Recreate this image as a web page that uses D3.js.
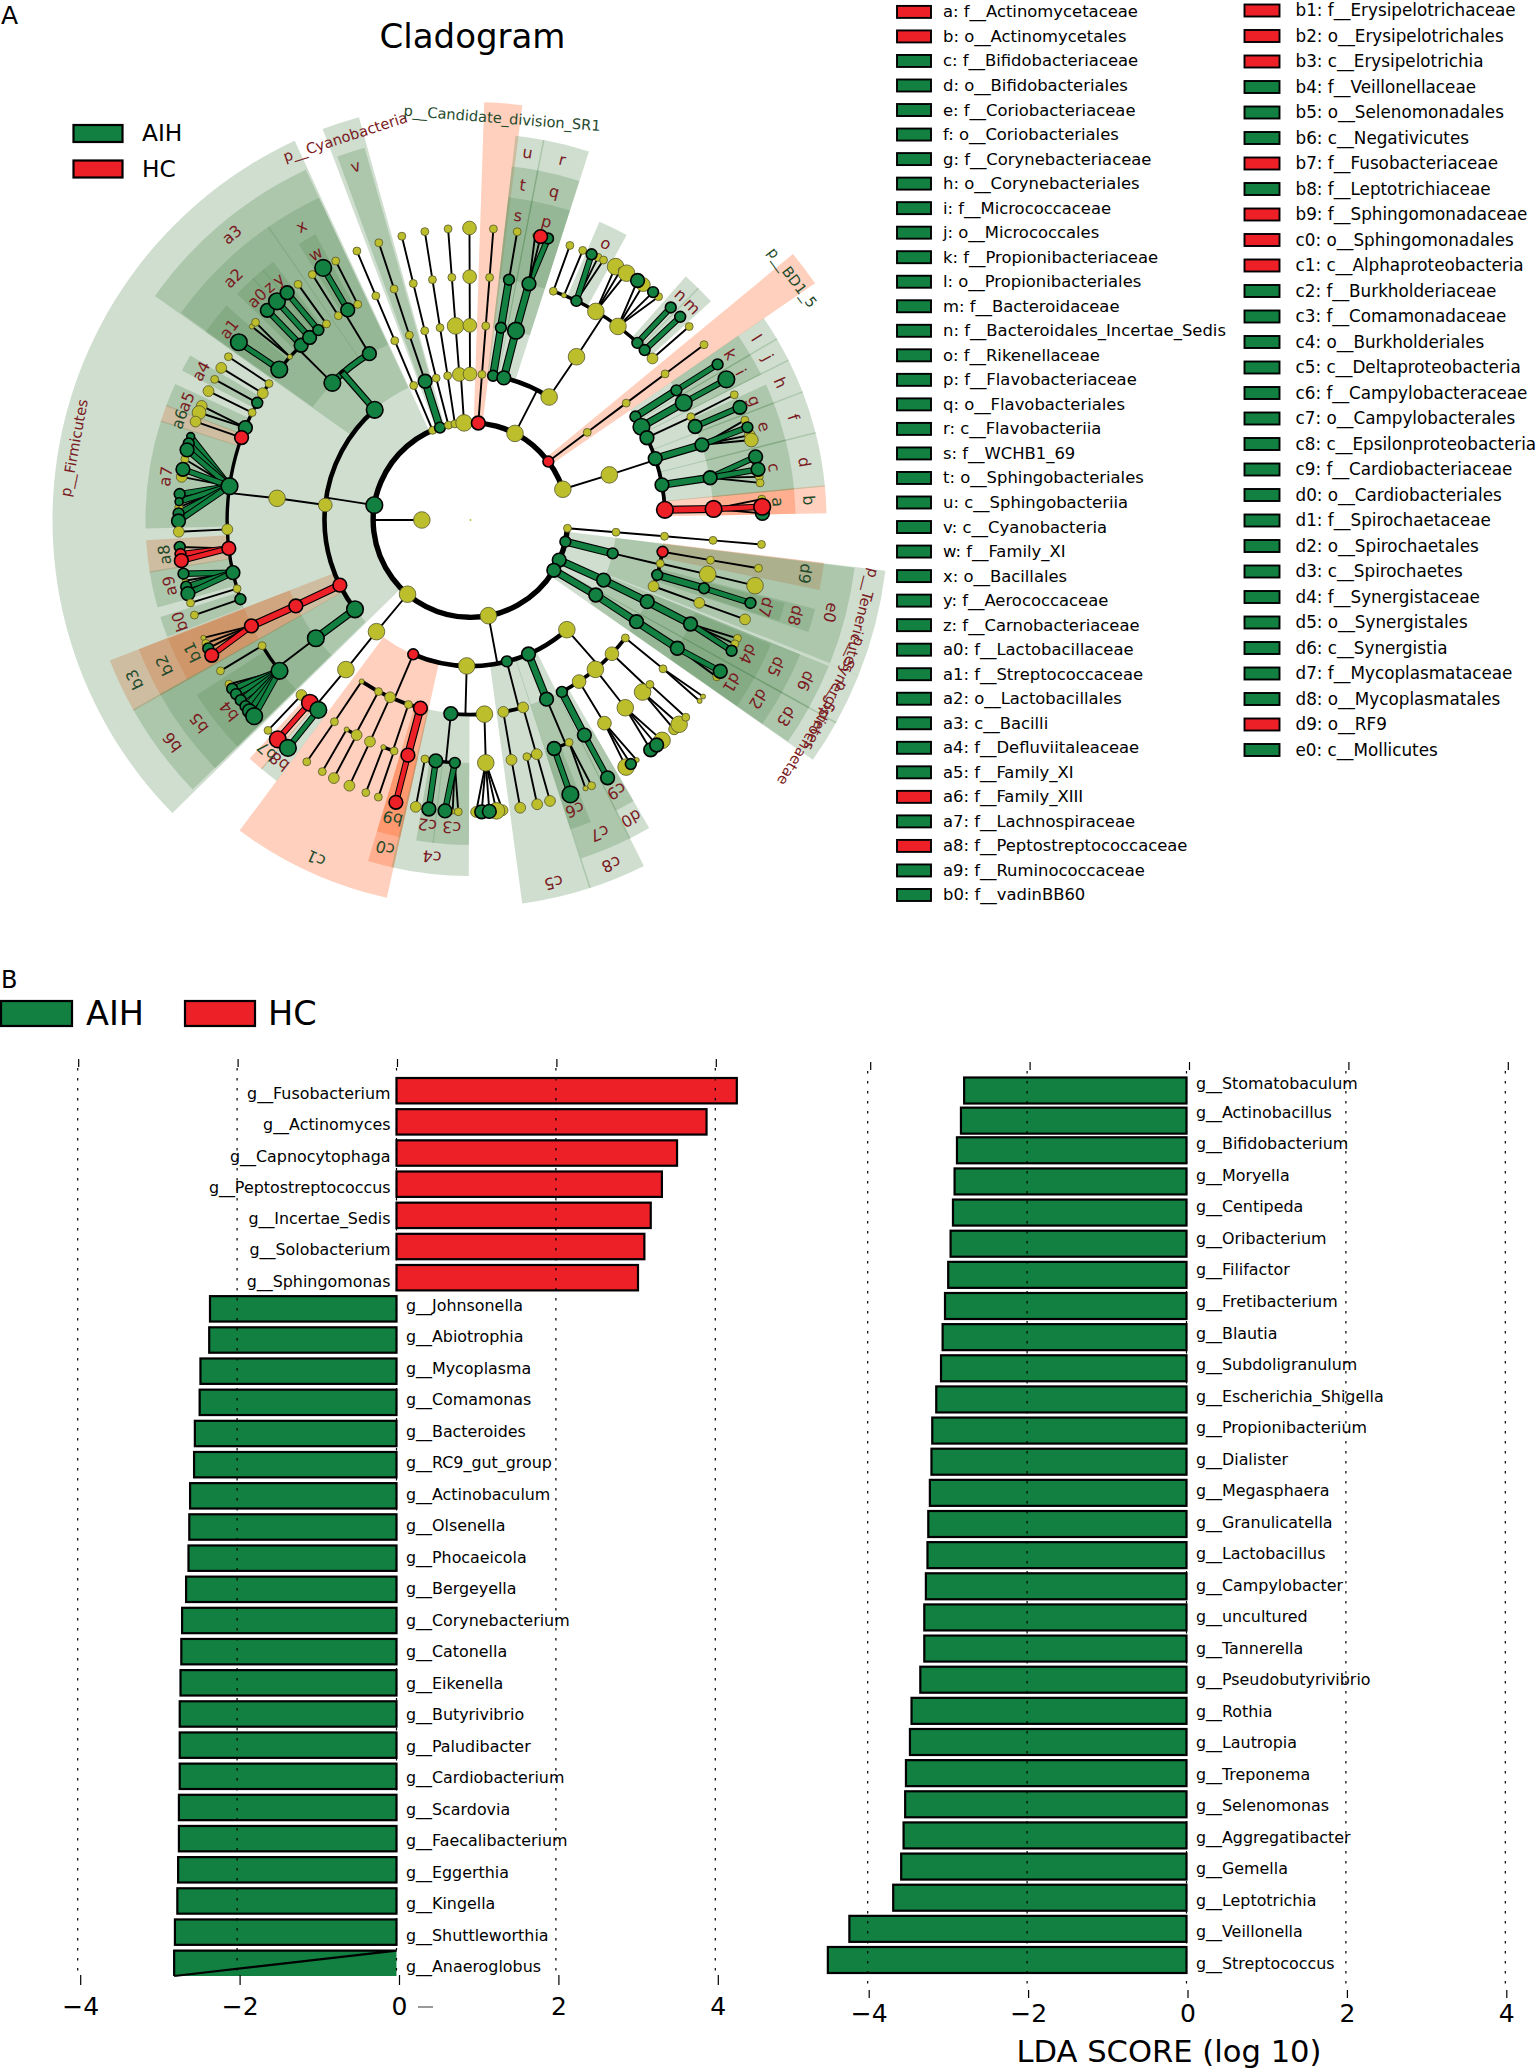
<!DOCTYPE html>
<html><head><meta charset="utf-8">
<script src="https://cdn.jsdelivr.net/npm/d3@7/dist/d3.min.js"></script>
<style>html,body{margin:0;padding:0;background:#fff}svg{display:block}text{font-family:"DejaVu Sans",sans-serif}</style>
</head><body><svg id="c" width="1537" height="2070"></svg>
<script>
// ---------- DATA: cladogram nodes = [id, parent, taxonomic level, angle (deg, clockwise from north), abundance class, enrichment]
const nodesRoot=[["root",null,0,0,0,"n"],["inner","root",1,270,5,"n"]];
const nodesTopChains=[
["p1","root",2,337.1,2,"n"],["p1c","p1",3,337.1,2,"n"],["p1o","p1c",4,337.1,2,"n"],["p1f","p1o",5,337.1,2,"n"],["p1g","p1f",6,337.1,2,"n"],
["cy","root",2,341.7,3,"g"],["v","cy",3,341.9,4,"g"],["vo","v",4,341.7,2,"n"],["vf","vo",5,341.7,2,"n"],["vg","vf",6,341.7,2,"n"],
["p3","root",2,346.9,2,"n"],["p3c","p3",3,346.4,2,"n"],["p3o","p3c",4,346.4,2,"n"],["p3f","p3o",5,346.4,2,"n"],["p3g","p3f",6,346.4,2,"n"],
["p4","root",2,350.8,2,"n"],["p4c","p4",3,351,2,"n"],["p4o","p4c",4,351,2,"n"],["p4f","p4o",5,351,2,"n"],["p4g","p4f",6,351,2,"n"],
["p5","root",2,356.2,5,"n"],["p5c","p5",3,355.6,4,"n"],["p5o","p5c",4,355.6,5,"n"],["p5f","p5o",5,355.6,2,"n"],["p5g","p5f",6,355.6,2,"n"],
["p6c","p5",3,359.8,4,"n"],["p6o","p6c",4,359.8,4,"n"],["p6f","p6o",5,359.8,4,"n"],["p6g","p6f",6,359.8,4,"n"],
["sr","root",2,4.6,4,"r"],["src","sr",3,4.5,2,"n"],["sro","src",4,4.5,2,"n"],["srf","sro",5,4.5,2,"n"],["srg","srf",6,4.5,2,"n"]];
const nodesBacteroidetes=[
["ba","root",2,27.2,5,"n"],["u","ba",3,8.9,3,"g"],["t","u",4,9,3,"g"],["s","t",5,9.1,3,"g"],["s1","s",6,9.2,2,"n"],
["r","ba",3,13.2,4,"g"],["q","r",4,13.5,5,"g"],["pf","q",5,13.9,4,"g"],["pf1","pf",6,12.8,1,"n"],["pf2","pf",6,15.4,3,"g"],["pf3","pf",6,13.9,4,"r"],
["bb","ba",3,32.6,5,"n"],["bo","bb",4,33,5,"n"],
["f1","bo",5,19.9,2,"n"],["f1g","f1",6,19.9,2,"n"],["f2","bo",5,22.6,1,"n"],["f2g","f2",6,22.6,2,"n"],
["o","bo",5,25.8,3,"g"],["o1","o",6,25.9,2,"n"],["o2","o",6,27.1,2,"n"],["o3","o",6,24.5,3,"g"],
["f4","bo",5,31,5,"n"],["f4a","f4",6,29.8,5,"n"],["f4b","f4",6,31,1,"n"],["f4c","f4",6,32.3,5,"n"],
["f5","bo",5,37.3,5,"n"],["f5b","f5",6,36.3,4,"n"],["f5d","f5",6,40.1,2,"n"],["f5a","f5",6,34.9,4,"g"],["f5c","f5",6,38.7,3,"g"],
["n","bo",5,43.3,3,"g"],["n1","n",6,43.3,3,"g"],["m","bo",5,45.7,3,"g"],["m1","m",6,45.9,3,"g"],["f8","bo",5,48.4,3,"n"],["f8g","f8",6,48.5,2,"n"]];
const nodesBD=[["bd","root",2,53.1,3,"r"],["bdc","bd",3,53.1,2,"n"],["bdo","bdc",4,53.1,2,"n"],["bdf","bdo",5,53.1,2,"n"],["bdg","bdf",6,53.1,2,"n"]];
const nodesActino=[
["ac","root",2,71.6,5,"n"],["acc","ac",3,72,5,"n"],
["l","acc",4,57.9,3,"g"],["k","l",5,57.8,3,"g"],["kg","k",6,57.8,3,"g"],
["j","acc",4,61.4,5,"g"],["i","j",5,61.2,5,"g"],["ig","i",6,61.2,5,"g"],
["h","acc",4,65,4,"g"],["h1","h",5,64.9,2,"n"],["h1g","h1",6,64.6,2,"n"],["g","h",5,67.4,4,"g"],["gg","g",6,67.3,4,"g"],
["fo","acc",4,71.6,4,"g"],["e","fo",5,72,4,"g"],["e2","e",6,70,2,"n"],["e3","e",6,73.1,3,"n"],["e4","e",6,74.1,4,"n"],["e1","e",6,71.5,3,"g"],
["d","acc",4,79.6,4,"g"],["c","d",5,80,4,"g"],["c3","c",6,81.5,2,"n"],["c4","c",6,82.7,2,"n"],["c1","c",6,77.5,4,"g"],["c2","c",6,80,4,"g"],
["b","acc",4,87,5,"r"],["a","b",5,87.4,5,"r"],["a3g","a",6,85.9,2,"n"],["a2g","a",6,88.7,4,"g"],["a1g","a",6,87.4,5,"r"]];
const nodesTenericutes=[
["te0","root",2,94.9,2,"n"],["te0c","te0",3,94.8,2,"n"],["te0o","te0c",4,94.8,2,"n"],["te0f","te0o",5,94.8,2,"n"],["te0g","te0f",6,94.8,2,"n"],
["te","root",2,102.9,3,"g"],["e0","te",3,103.2,3,"g"],
["d9","e0",4,99.4,3,"r"],["d9f","d9",5,99.5,2,"n"],["d9g","d9f",6,99.5,2,"n"],
["te2","e0",4,102.9,2,"n"],["te2f","te2",5,102.9,5,"n"],["te2g","te2f",6,103,5,"n"],
["d8","e0",4,106.4,3,"g"],["d7","d8",5,106.3,3,"g"],["d7g","d7",6,106.5,3,"g"],
["te4","e0",4,109.9,3,"n"],["te4f","te4",5,109.9,3,"n"],["te4g","te4f",6,109.9,3,"n"]];
const nodesSyn=[["sy","root",2,114.3,4,"g"],["d6","sy",3,114.3,4,"g"],["d5","d6",4,114.8,4,"g"],["d4","d5",5,115.3,4,"g"],["d4a","d4",6,113.9,2,"n"],["d4b","d4",6,115.1,2,"n"],["d4c","d4",6,116.6,3,"g"]];
const nodesSpi=[["sp","root",2,121.1,4,"g"],["d3","sp",3,120.9,4,"g"],["d2","d3",4,121.5,4,"g"],["d1","d2",5,121.8,4,"g"],["d1b","d1",6,122.5,2,"n"],["d1a","d1",6,121.2,4,"g"]];
const nodesProteo=[
["pr","root",2,169.4,5,"n"],
["cg","pr",3,138.7,5,"n"],
["d0","cg",4,152,3,"g"],["c9","d0",5,152.1,4,"g"],["c9g","c9",6,152,4,"g"],
["g1","cg",4,146.1,4,"n"],["g1f","g1",5,146.6,4,"n"],["g1a","g1f",6,147.8,5,"n"],["g1c","g1f",6,145.3,1,"n"],["g1b","g1f",6,146.7,3,"g"],
["g2","cg",4,140.1,5,"n"],["g2f","g2",5,140.5,5,"n"],["g2c","g2f",6,139,5,"n"],["g2a","g2f",6,141.9,4,"g"],["g2b","g2f",6,140.4,4,"g"],
["g3","cg",4,133.4,4,"n"],["g3a","g3",5,135,5,"n"],["g3a1","g3a",6,135.8,3,"n"],["g3a2","g3a",6,134.4,5,"n"],["g3b","g3",5,132.5,2,"n"],["g3b1","g3b",6,132.5,2,"n"],
["g4","cg",4,127.3,2,"n"],["g4f","g4",5,127.7,2,"n"],["g4a","g4f",6,128.3,1,"n"],["g4b","g4f",6,127.2,1,"n"],
["c8","pr",3,156.6,4,"g"],["c7","c8",4,157,4,"g"],["c6","c7",5,159.9,4,"g"],["c6g","c6",6,160,5,"g"],["c7b","c7",5,156.1,2,"n"],["c7b1","c7b",6,156.8,1,"n"],["c7b2","c7b",6,155.5,2,"n"],
["c5","pr",3,165.6,3,"g"],["e1o","c5",4,170.3,3,"n"],["e1f","e1o",5,170.3,3,"n"],["e1g","e1f",6,170.2,3,"n"],
["e2o","c5",4,164.3,3,"n"],["e2f","e2o",5,166.6,2,"n"],["e2g","e2f",6,166.8,3,"n"],["e3f","e2o",5,164.2,3,"n"],["e3g","e3f",6,164.2,3,"n"],
["be","pr",3,181.5,5,"n"],["bo2","be",4,175.9,5,"n"],["bf","bo2",5,176.4,5,"n"],["bf1","bf",6,178.9,3,"n"],["bf5","bf",6,173.7,3,"n"],["bf4","bf",6,174.9,5,"n"],["bf2","bf",6,177.8,4,"g"],["bf3","bf",6,176.3,4,"g"],
["c4","be",4,185.8,4,"g"],["c3b","c4",5,183.7,3,"g"],["c3n1","c3b",6,183.5,1,"n"],["c3n2","c3b",6,182.4,2,"n"],["c3g","c3b",6,185,4,"g"],
["c2b","c4",5,188.2,4,"g"],["c2g","c2b",6,188.2,4,"g"],["c2n","c4",5,190.8,2,"n"],["c2n1","c2n",6,190.8,3,"n"],
["c1b","pr",3,203.1,3,"r"],
["c0","c1b",4,194.9,4,"r"],["b9","c0",5,194.9,4,"r"],["b9g","b9",6,194.8,4,"r"],
["a1o","c1b",4,198.6,2,"n"],["a1f1","a1o",5,201,1,"n"],["a1g1","a1f1",6,201,2,"n"],["a1f2","a1o",5,198.3,2,"n"],["a1g2","a1f2",6,198.4,2,"n"],
["a2o","c1b",4,204.4,3,"n"],["a2f","a2o",5,204.4,3,"n"],["a2gn","a2f",6,204.5,3,"n"],
["a3o","c1b",4,208.2,2,"n"],["a3f1","a3o",5,210.6,1,"n"],["a3g1","a3f1",6,210.5,2,"n"],["a3f2","a3o",5,207.9,3,"n"],["a3g2","a3f2",6,207.9,3,"n"],
["a4o","c1b",4,214,1,"n"],["a4f","a4o",5,214,2,"n"],["a4g","a4f",6,214.1,2,"n"]];
const nodesFuso=[
["fu","root",2,220.3,5,"n"],["fuc","fu",3,220.1,5,"n"],["fuo","fuc",4,219.8,5,"n"],
["fua","fuo",5,224,3,"n"],["fua1","fua",6,223.9,2,"n"],
["b7","fuo",5,221.3,5,"r"],["b7g","b7",6,221.3,5,"r"],
["b8","fuo",5,218.7,5,"g"],["b8g","b8",6,218.7,5,"g"]];
const nodesBacilli=[
["fi","root",2,278.8,5,"g"],
["a3c","fi",3,319,5,"g"],["a2","a3c",4,314.8,5,"g"],["x","a3c",4,328.7,4,"g"],
["a1","a2",5,308.2,5,"g"],["a1x","a1",6,307.5,5,"g"],
["l1","a2",5,312.1,1,"n"],["l1a","l1",6,311.5,1,"n"],["l1b","l1",6,312.6,2,"n"],
["a0","a2",5,315.9,4,"g"],["a0g","a0",6,315.9,4,"g"],
["zf","a2",5,318.6,4,"g"],["zg","zf",6,318.5,5,"g"],
["yf","a2",5,321.3,3,"g"],["yg","yf",6,321.1,4,"g"],
["l6","a2",5,323.7,2,"n"],["l6g","l6",6,323.8,2,"n"],
["xa","x",5,327.1,2,"n"],["xag","xa",6,327.2,2,"n"],
["w","x",5,329.7,4,"g"],["wg","w",6,329.7,5,"g"],
["xb","x",5,332.4,2,"n"],["xbg","xb",6,332.5,2,"n"]];
const nodesClostridia=[
["cl","fi",3,275.9,4,"n"],["clo","cl",4,276.4,5,"n"],
["cf1","clo",5,304.1,2,"n"],["cf1g","cf1",6,304,2,"n"],
["cf2","clo",5,301.4,3,"n"],["cf2g","cf2",6,301.4,3,"n"],
["a4","clo",5,298.8,3,"g"],["a4g1","a4",6,298.8,2,"n"],
["cf4","clo",5,296.2,2,"n"],["cf4g","cf4",6,296.2,3,"n"],
["a5","clo",5,292.3,4,"g"],["a5a","a5",6,293,3,"n"],["a5b","a5",6,291.6,4,"n"],
["a6","clo",5,289.8,4,"r"],["a6g","a6",6,289.7,3,"n"],
["a7","clo",5,278,5,"g"],["a7y1","a7",6,282,2,"n"],["a7y2","a7",6,278.5,3,"n"],["a7y3","a7",6,272.5,2,"n"],
["a7a","a7",6,286.6,2,"g"],["a7b","a7",6,285.2,3,"g"],["a7c","a7",6,283.9,4,"g"],["a7d","a7",6,280,4,"g"],["a7e","a7",6,275.1,3,"g"],["a7f","a7",6,273.6,2,"g"],["a7g","a7",6,271.3,3,"g"],["a7h","a7",6,269.8,4,"g"],
["cf9","clo",5,267.8,3,"n"],["cf9g","cf9",6,267.7,3,"n"],
["a8","clo",5,263.3,4,"r"],["a8a","a8",6,264.7,3,"g"],["a8b","a8",6,263.3,3,"r"],["a8c","a8",6,262,4,"r"],
["a9","clo",5,257.5,4,"g"],["a9t","a9",6,258,1,"n"],["a9a","a9",6,259.4,3,"g"],["a9b","a9",6,256.8,3,"g"],["a9c","a9",6,255.4,4,"g"],
["cf12","clo",5,253.6,2,"n"],["cf12g","cf12",6,253.5,2,"n"],
["b0","clo",5,251,3,"g"],["b0g","b0",6,251,2,"n"]];
const nodesLowerFirm=[
["b3","fi",3,243.5,4,"r"],["b2","b3",4,243.8,4,"r"],["b1","b2",5,244.2,4,"r"],["b1d","b1",6,246.2,1,"n"],["b1c","b1",6,245,2,"n"],["b1b","b1",6,243.9,3,"g"],["b1a","b1",6,242.4,4,"r"],
["b6","fi",3,232.3,5,"g"],["b5","b6",4,232.6,5,"g"],["b4","b5",5,231.7,5,"g"],["ny","b5",5,238.9,2,"n"],["nyg","ny",6,238.9,2,"n"],
["b4y","b4",6,235.8,2,"n"],["b4a","b4",6,234.7,3,"g"],["b4b","b4",6,233.4,3,"g"],["b4c","b4",6,231.9,3,"g"],["b4d","b4",6,230.4,3,"g"],["b4e","b4",6,229.2,4,"g"],["b4f","b4",6,227.8,5,"g"]];

// ---------- DATA: shaded clades = [label, rank, start angle, end angle, enrichment]
const phylumSectors=[["p__Firmicutes","p",225.6,335,"g"],["p__Cyanobacteria","p",339.4,344.4,"g"],["p__Candidate_division_SR1","p",2,7,"r"],["p__BD1_5","p",50.6,55.4,"r"],["p__Tenericutes","p",97.1,111.8,"g"],["p__Synergistetes","p",112,119,"g"],["p__Spirochaetae","p",119,124.9,"g"]];
const classSectors=[["a3","c",305.5,334.7,"g"],["v","c",340,344,"g"],["u","c",6.8,10.9,"g"],["r","c",10.9,17.7,"g"],["b3","c",240.6,248.6,"r"],["b6","c",226,240.6,"g"],["c1","c",192.6,216.5,"r"],["c5","c",162,172.2,"g"],["c8","c",153.5,162,"g"],["e0","c",97.2,111.6,"g"],["d6","c",112.3,119,"g"],["d3","c",119,124.8,"g"]];
const orderSectors=[["a2","o",305.7,325.4,"g"],["x","o",325.4,334.7,"g"],["t","o",6.8,10.9,"g"],["q","o",10.9,17.7,"g"],["l","o",55.6,59.4,"g"],["j","o",59.4,63.3,"g"],["h","o",63.3,68.9,"g"],["f","o",68.9,75.8,"g"],["d","o",75.8,84.5,"g"],["b","o",84.5,88.8,"r"],["b2","o",240.6,248.6,"r"],["b5","o",225.9,240.6,"g"],["c0","o",192.6,196.6,"r"],["c4","o",180.4,192.7,"g"],["c7","o",153.4,161.8,"g"],["d0","o",150,153.4,"g"],["d9","o",97,101.2,"r"],["d8","o",104.6,108.2,"g"],["d5","o",112.3,119,"g"],["d2","o",119,124.8,"g"]];
const familySectors=[["a1","f",305.5,311.2,"g"],["a0","f",314.2,318,"g"],["z","f",318,320.3,"g"],["y","f",320.3,322.5,"g"],["w","f",328.2,331.4,"g"],["s","f",6.8,10.9,"g"],["p","f",10.9,17.7,"g"],["o","f",23.5,28.6,"g"],["n","f",41.6,44.5,"g"],["m","f",44.5,47.6,"g"],["k","f",55.6,59.4,"g"],["i","f",59.4,63.3,"g"],["g","f",65.5,68.9,"g"],["e","f",68.9,75.8,"g"],["c","f",75.8,84.5,"g"],["a","f",84.5,88.8,"r"],["a4","f",297.5,300.3,"g"],["a5","f",290.6,294.6,"g"],["a6","f",287.7,290.6,"r"],["a7","f",268.6,287.7,"g"],["a8","f",260.8,266.3,"r"],["a9","f",254.5,260.8,"g"],["b0","f",249,252.5,"g"],["b1","f",240.8,248.4,"r"],["b4","f",225.9,237.3,"g"],["b7","f",220,222.7,"r"],["b8","f",216.7,220,"g"],["b9","f",192.6,196.6,"r"],["c2","f",186.6,189.5,"g"],["c3","f",180.4,186.6,"g"],["c6","f",158.4,162,"g"],["c9","f",150,153.4,"g"],["d7","f",104.9,108,"g"],["d4","f",112.6,119,"g"],["d1","f",119,124.8,"g"]];

// ---------- DATA: cladogram legend
const legendCol1=[["a: f__Actinomycetaceae","r"],["b: o__Actinomycetales","r"],["c: f__Bifidobacteriaceae","g"],["d: o__Bifidobacteriales","g"],["e: f__Coriobacteriaceae","g"],["f: o__Coriobacteriales","g"],["g: f__Corynebacteriaceae","g"],["h: o__Corynebacteriales","g"],["i: f__Micrococcaceae","g"],["j: o__Micrococcales","g"],["k: f__Propionibacteriaceae","g"],["l: o__Propionibacteriales","g"],["m: f__Bacteroidaceae","g"],["n: f__Bacteroidales_Incertae_Sedis","g"],["o: f__Rikenellaceae","g"],["p: f__Flavobacteriaceae","g"],["q: o__Flavobacteriales","g"],["r: c__Flavobacteriia","g"],["s: f__WCHB1_69","g"],["t: o__Sphingobacteriales","g"],["u: c__Sphingobacteriia","g"],["v: c__Cyanobacteria","g"],["w: f__Family_XI","g"],["x: o__Bacillales","g"],["y: f__Aerococcaceae","g"],["z: f__Carnobacteriaceae","g"],["a0: f__Lactobacillaceae","g"],["a1: f__Streptococcaceae","g"],["a2: o__Lactobacillales","g"],["a3: c__Bacilli","g"],["a4: f__Defluviitaleaceae","g"],["a5: f__Family_XI","g"],["a6: f__Family_XIII","r"],["a7: f__Lachnospiraceae","g"],["a8: f__Peptostreptococcaceae","r"],["a9: f__Ruminococcaceae","g"],["b0: f__vadinBB60","g"]];
const legendCol2=[["b1: f__Erysipelotrichaceae","r"],["b2: o__Erysipelotrichales","r"],["b3: c__Erysipelotrichia","r"],["b4: f__Veillonellaceae","g"],["b5: o__Selenomonadales","g"],["b6: c__Negativicutes","g"],["b7: f__Fusobacteriaceae","r"],["b8: f__Leptotrichiaceae","g"],["b9: f__Sphingomonadaceae","r"],["c0: o__Sphingomonadales","r"],["c1: c__Alphaproteobacteria","r"],["c2: f__Burkholderiaceae","g"],["c3: f__Comamonadaceae","g"],["c4: o__Burkholderiales","g"],["c5: c__Deltaproteobacteria","g"],["c6: f__Campylobacteraceae","g"],["c7: o__Campylobacterales","g"],["c8: c__Epsilonproteobacteria","g"],["c9: f__Cardiobacteriaceae","g"],["d0: o__Cardiobacteriales","g"],["d1: f__Spirochaetaceae","g"],["d2: o__Spirochaetales","g"],["d3: c__Spirochaetes","g"],["d4: f__Synergistaceae","g"],["d5: o__Synergistales","g"],["d6: c__Synergistia","g"],["d7: f__Mycoplasmataceae","g"],["d8: o__Mycoplasmatales","g"],["d9: o__RF9","r"],["e0: c__Mollicutes","g"]];

// ---------- DATA: LDA bars
const leftGenera=["g__Fusobacterium","g__Actinomyces","g__Capnocytophaga","g__Peptostreptococcus","g__Incertae_Sedis","g__Solobacterium","g__Sphingomonas","g__Johnsonella","g__Abiotrophia","g__Mycoplasma","g__Comamonas","g__Bacteroides","g__RC9_gut_group","g__Actinobaculum","g__Olsenella","g__Phocaeicola","g__Bergeyella","g__Corynebacterium","g__Catonella","g__Eikenella","g__Butyrivibrio","g__Paludibacter","g__Cardiobacterium","g__Scardovia","g__Faecalibacterium","g__Eggerthia","g__Kingella","g__Shuttleworthia","g__Anaeroglobus"];
const leftScores=[4.27,3.89,3.52,3.33,3.19,3.11,3.03,-2.34,-2.35,-2.46,-2.47,-2.53,-2.54,-2.59,-2.6,-2.61,-2.64,-2.69,-2.7,-2.71,-2.72,-2.72,-2.72,-2.73,-2.73,-2.74,-2.75,-2.78,-2.79];
const rightGenera=["g__Stomatobaculum","g__Actinobacillus","g__Bifidobacterium","g__Moryella","g__Centipeda","g__Oribacterium","g__Filifactor","g__Fretibacterium","g__Blautia","g__Subdoligranulum","g__Escherichia_Shigella","g__Propionibacterium","g__Dialister","g__Megasphaera","g__Granulicatella","g__Lactobacillus","g__Campylobacter","g__uncultured","g__Tannerella","g__Pseudobutyrivibrio","g__Rothia","g__Lautropia","g__Treponema","g__Selenomonas","g__Aggregatibacter","g__Gemella","g__Leptotrichia","g__Veillonella","g__Streptococcus"];
const rightScores=[-2.79,-2.83,-2.88,-2.91,-2.93,-2.96,-2.99,-3.03,-3.06,-3.08,-3.14,-3.19,-3.2,-3.22,-3.24,-3.25,-3.27,-3.29,-3.29,-3.34,-3.45,-3.47,-3.52,-3.53,-3.55,-3.58,-3.68,-4.23,-4.5];
const axisTicks=[-4,-2,0,2,4];
const groups=["AIH","HC"];

// ---------- DRAW
const GREEN="#118040",RED="#EE2027",YELLOW="#BCBE2C";
const svg=d3.select("#c");
svg.append("rect").attr("width",1537).attr("height",2070).attr("fill","#fff");
const cx=470.5,cy=520;
const gClad=svg.append("g").attr("transform",`translate(${cx},${cy})`);
const rad=d=>d*Math.PI/180;
const rScale=d3.scaleLinear().domain([0,6]).range([0,292]);
const sizeScale=d3.scaleLinear().domain([0,1,5]).range([0.9,2.5,8.3]);
const polar=(lev,ang)=>[rScale(lev)*Math.sin(rad(ang)),-rScale(lev)*Math.cos(rad(ang))];
const rows=[...nodesRoot,...nodesTopChains,...nodesBacteroidetes,...nodesBD,...nodesActino,...nodesTenericutes,...nodesSyn,...nodesSpi,...nodesProteo,...nodesFuso,...nodesBacilli,...nodesClostridia,...nodesLowerFirm];
const nodes=rows.map(d=>({id:d[0],parent:d[1],level:d[2],angle:d[3],size:d[4],cls:d[5]}));
const byId=new Map(nodes.map(d=>[d.id,d]));
const colorOf=c=>c==="g"?GREEN:c==="r"?RED:YELLOW;

// sectors: salmon clades underneath, green clades laid over them
const bands={p:[97,418,403],c:[146,387,372],o:[194,356,339],f:[243,325,308]};
const arcGen=d3.arc();
const secFill=c=>c==="g"?"#5F915F":"#FF6226";
const secAll=[...phylumSectors,...classSectors,...orderSectors,...familySectors].map(d=>({label:d[0],rank:d[1],a0:d[2],a1:d[3],cls:d[4]}));
const secDraw=[...secAll.filter(d=>d.cls==="r"),...secAll.filter(d=>d.cls==="g")];
gClad.append("g").selectAll("path").data(secDraw).join("path")
 .attr("d",d=>arcGen({innerRadius:bands[d.rank][0],outerRadius:bands[d.rank][1],startAngle:rad(d.a0-0.12),endAngle:rad(d.a1+0.12)}))
 .attr("fill",d=>secFill(d.cls)).attr("fill-opacity",0.3).attr("stroke","none");

// edges
const gEdges=gClad.append("g").attr("fill","none");
const unwrap=a=>a<90?a+360:a;
function drawLine(p,q,colored,cls,wBlack,wCol){
  gEdges.append("line").attr("x1",p[0]).attr("y1",p[1]).attr("x2",q[0]).attr("y2",q[1]).attr("stroke","#000").attr("stroke-width",wBlack).attr("stroke-linecap","round");
  if(colored) gEdges.append("line").attr("x1",p[0]).attr("y1",p[1]).attr("x2",q[0]).attr("y2",q[1]).attr("stroke",colorOf(cls)).attr("stroke-width",wCol);
}
const arcWidth={2:5.4,3:4.6,4:3.8,5:3.4};
const kids=d3.group(nodes.filter(d=>d.parent),d=>d.parent);
kids.forEach((ch,pid)=>{
  const P=byId.get(pid);
  const byLev=d3.group(ch,d=>d.level);
  byLev.forEach((sib,lev)=>{
    if(lev===1){ drawLine(polar(2,sib[0].angle),polar(1,sib[0].angle),false,"n",2,0); return; }
    if(lev===6||sib.length===1){
      sib.forEach(n=>{
        const col=n.cls!=="n"&&n.cls===P.cls;
        if(P.id==="root") return;
        drawLine(polar(P.level,P.angle),polar(n.level,n.angle),col,n.cls,col?(lev===6?6.4:8):1.9,col?(lev===6?4.4:5.8):0);
      });
      return;
    }
    const us=sib.map(n=>unwrap(n.angle));
    const a0=d3.min(us),a1=d3.max(us),R=rScale(lev);
    const allCol=P.cls!=="n"&&sib.every(n=>n.cls===P.cls);
    const path=arcGen({innerRadius:R,outerRadius:R,startAngle:rad(a0),endAngle:rad(a1)});
    gEdges.append("path").attr("d",path).attr("stroke","#000").attr("stroke-width",allCol?7:arcWidth[lev]).attr("stroke-linecap","round");
    if(allCol) gEdges.append("path").attr("d",path).attr("stroke",colorOf(P.cls)).attr("stroke-width",4.6);
    if(P.id!=="root"){
      const ua=Math.max(a0,Math.min(a1,unwrap(P.angle)));
      drawLine(polar(P.level,P.angle),polar(lev,ua),allCol,P.cls,allCol?7:1.9,4.6);
    }
  });
});

// nodes
gClad.append("g").selectAll("circle").data(nodes.slice().sort((a,b)=>d3.ascending(a.level,b.level))).join("circle")
 .attr("cx",d=>polar(d.level,d.angle)[0]).attr("cy",d=>polar(d.level,d.angle)[1])
 .attr("r",d=>sizeScale(d.size)).attr("fill",d=>colorOf(d.cls))
 .attr("stroke",d=>d.id==="root"?"none":d.cls==="n"?"#55552a":"#000").attr("stroke-width",d=>d.cls==="n"?0.8:1.6);

// sector labels
gClad.append("g").selectAll("text").data(secAll).join("text")
 .attr("transform",d=>{const m=(d.a0+d.a1)/2,r=bands[d.rank][2];return `translate(${r*Math.sin(rad(m))},${-r*Math.cos(rad(m))}) rotate(${m})`;})
 .attr("text-anchor","middle").attr("dy",".35em").attr("font-size",d=>d.rank==="p"?14.6:16)
 .attr("fill",d=>d.cls==="g"?"#7a1a22":"#1f4a2c").text(d=>d.label);

// headings
svg.append("text").attr("x",1).attr("y",24).attr("font-size",25).text("A");
svg.append("text").attr("x",472.5).attr("y",48).attr("text-anchor","middle").attr("font-size",34).text("Cladogram");
const lg1=svg.append("g");
groups.forEach((g,i)=>{
  lg1.append("rect").attr("x",73.5).attr("y",125+i*35.5).attr("width",49).attr("height",17).attr("fill",i?RED:GREEN).attr("stroke","#000").attr("stroke-width",2.2);
  lg1.append("text").attr("x",142).attr("y",141+i*35.5).attr("font-size",23.3).text(g);
});
function legendCol(data,x,w,y0,step,tx,fs){
  const g=svg.append("g");
  g.selectAll("rect").data(data).join("rect").attr("x",x).attr("y",(d,i)=>y0+i*step-6).attr("width",w).attr("height",12)
   .attr("fill",d=>d[1]==="r"?RED:GREEN).attr("stroke","#000").attr("stroke-width",1.9);
  g.selectAll("text").data(data).join("text").attr("x",tx).attr("y",(d,i)=>y0+i*step+5.5).attr("font-size",fs).text(d=>d[0]);
}
legendCol(legendCol1,897,34,11.9,24.53,943,16.42);
legendCol(legendCol2,1244.5,35,10.5,25.5,1295.5,16.8);

// panel B
svg.append("text").attr("x",1).attr("y",988).attr("font-size",24).text("B");
[[1,72,86],[185,71,268]].forEach((d,i)=>{
  svg.append("rect").attr("x",d[0]).attr("y",1001).attr("width",d[1]-1).attr("height",25).attr("fill",i?RED:GREEN).attr("stroke","#000").attr("stroke-width",2.2);
  svg.append("text").attr("x",d[2]).attr("y",1025).attr("font-size",33.5).text(groups[i]);
});
const UNIT=79.7;
function panel(genera,scores,opt){
  const g=svg.append("g");
  const x=d3.scaleLinear().domain([-4,4]).range([opt.x0-4*UNIT,opt.x0+4*UNIT]);
  const y=d3.scaleBand().domain(genera).range([opt.top,opt.bottom]).paddingInner(opt.pad).paddingOuter(0);
  const data=genera.map((n,i)=>({n,v:scores[i],i}));
  const lyPos=d3.scalePoint().domain(data.filter(d=>opt.split&&d.v>0).map(d=>d.n)).range(opt.labelsPos||[0,0]);
  const lyAll=d3.scalePoint().domain(data.filter(d=>!(opt.split&&d.v>0)).map(d=>d.n)).range(opt.labels);
  const ly=d=>(opt.split&&d.v>0?lyPos(d.n):lyAll(d.n))+(d.i<opt.labelNudge.length?opt.labelNudge[d.i]:0);
  const nudge=d=>d.i<opt.nudge.length?opt.nudge[d.i]:0;
  g.selectAll("rect.bar").data(data).join("rect").attr("class","bar")
   .attr("x",d=>x(Math.min(0,d.v))).attr("width",d=>Math.abs(x(d.v)-x(0)))
   .attr("y",d=>y(d.n)+nudge(d)).attr("height",y.bandwidth())
   .attr("fill",d=>d.v>0?RED:GREEN).attr("stroke",d=>opt.broken===d.n?"none":"#000").attr("stroke-width",2.2);
  if(opt.broken){
    const d=data.find(e=>e.n===opt.broken);
    const x0=x(d.v),x1=x(0),y0=y(d.n),y1=y0+y.bandwidth();
    g.append("path").attr("d",d3.line()([[x0,y1],[x0,y0],[x1,y0],[x0,y1]])).attr("fill","none").attr("stroke","#000").attr("stroke-width",2.2);
  }
  g.selectAll("text.lab").data(data).join("text").attr("class","lab")
   .attr("x",d=>d.v>0?x(0)-6:x(0)+9.5).attr("y",d=>ly(d)+5).attr("text-anchor",d=>d.v>0?"end":"start")
   .attr("font-size",15.9).text(d=>d.n);
  g.append("g").selectAll("line").data(axisTicks).join("line")
   .attr("x1",d=>x(d)).attr("x2",d=>x(d)).attr("y1",opt.gridTop).attr("y2",opt.gridBottom)
   .attr("stroke","#000").attr("stroke-width",1.2).attr("stroke-dasharray","2.5 7.5");
  g.append("g").selectAll("line").data(axisTicks).join("line")
   .attr("x1",d=>x(d)+opt.topShift).attr("x2",d=>x(d)+opt.topShift).attr("y1",opt.gridTop-9).attr("y2",opt.gridTop-1)
   .attr("stroke","#000").attr("stroke-width",1.2);
  const ax=d3.axisBottom(d3.scaleLinear().domain(x.domain()).range(x.range().map(v=>v+opt.botShift))).tickValues(axisTicks).tickSize(opt.tick).tickPadding(opt.tickPad).tickFormat(d3.format("d"));
  const a=svg.append("g").attr("transform",`translate(0,${opt.gridBottom})`).call(ax);
  a.select(".domain").remove();
  a.selectAll("line").attr("stroke","#000").attr("stroke-width",1.2);
  a.selectAll("text").attr("font-size",25).attr("font-family","DejaVu Sans").attr("fill","#000");
}
panel(leftGenera,leftScores,{x0:396.5,top:1078,bottom:1976,pad:0.185,split:true,labelsPos:[1094,1281.5],labels:[1306,1967],labelNudge:[],broken:"g__Anaeroglobus",nudge:[],gridTop:1068,gridBottom:1975,topShift:1,botShift:2.5,tick:10,tickPad:12});
panel(rightGenera,rightScores,{x0:1186.5,top:1075,bottom:1973,pad:0.165,split:false,labels:[1081.3,1964],labelNudge:[3],broken:null,nudge:[2.5,1.5],gridTop:1071,gridBottom:1990,topShift:3,botShift:1,tick:8,tickPad:6});
svg.append("line").attr("x1",418).attr("x2",433).attr("y1",2007).attr("y2",2007).attr("stroke","#777").attr("stroke-width",1.5);
svg.append("text").attr("x",1169).attr("y",2062).attr("text-anchor","middle").attr("font-size",30.6).text("LDA SCORE (log 10)");
</script></body></html>
